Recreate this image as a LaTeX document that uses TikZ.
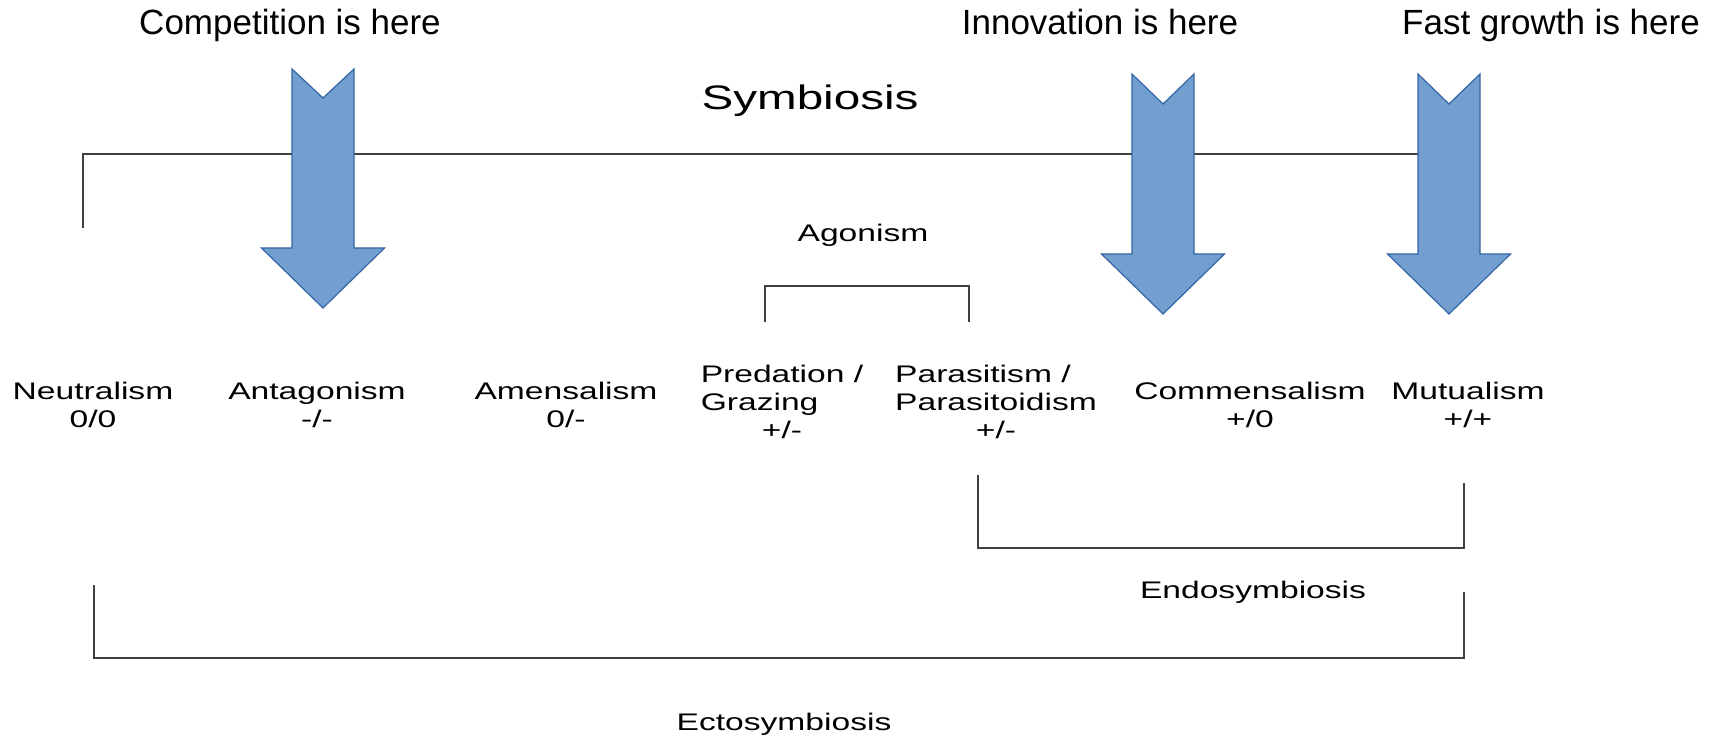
\documentclass[tikz,border=0pt]{standalone}
\usepackage{fontspec}
\setmainfont{Liberation Sans}
\definecolor{arrowfill}{HTML}{729FCF}
\definecolor{arrowline}{HTML}{3465A4}
\tikzset{
  bracket/.style={draw=black!75, line width=0.7pt},
  bigarrow/.style={fill=arrowfill, draw=arrowline, line width=0.6pt, line join=miter},
  toplabel/.style={font=\fontsize{17.5}{21}\selectfont, anchor=base, inner sep=0pt},
  grouplabel/.style={font=\fontsize{12}{14}\selectfont, xscale=1.4, anchor=base, inner sep=0pt},
  relation/.style={font=\fontsize{12}{14}\selectfont, xscale=1.4, align=center, inner sep=0pt},
}
\begin{document}
\begin{tikzpicture}[x=0.5pt,y=-0.5pt]
\useasboundingbox (0,0) rectangle (1723,737);

% Symbiosis bracket (runs under the arrows)
\draw[bracket] (83,228) -- (83,154) -- (1449,154);
\node[grouplabel,font=\fontsize{17}{20}\selectfont] (symbiosis) at (810,110) {Symbiosis};

% Where things happen
\node[toplabel] (competition) at (290,35) {Competition is here};
\node[toplabel] (innovation) at (1100,35) {Innovation is here};
\node[toplabel] (fastgrowth) at (1551,35) {Fast growth is here};

\draw[bigarrow,shift={(323,69)}] (-31,0) -- (0,29) -- (31,0) -- (31,179) -- (61.5,179) -- (0,239) -- (-61.5,179) -- (-31,179) -- cycle;
\draw[bigarrow,shift={(1163,74)}] (-31,0) -- (0,30) -- (31,0) -- (31,180) -- (61.5,180) -- (0,240) -- (-61.5,180) -- (-31,180) -- cycle;
\draw[bigarrow,shift={(1449,74)}] (-31,0) -- (0,30) -- (31,0) -- (31,180) -- (61.5,180) -- (0,240) -- (-61.5,180) -- (-31,180) -- cycle;

% Agonism
\node[grouplabel] (agonism) at (863,242) {Agonism};
\draw[bracket] (765,322) -- (765,286) -- (969,286) -- (969,322);

% Relations
\node[relation] (neutralism) at (93,405) {Neutralism\\0/0};
\node[relation] (antagonism) at (317,405) {Antagonism\\-/-};
\node[relation] (amensalism) at (566,405) {Amensalism\\0/-};
\node[relation] (predation) at (782,405) {\begin{tabular}{@{}l@{}}Predation /\\Grazing\\\multicolumn{1}{@{}c@{}}{+/-}\end{tabular}};
\node[relation] (parasitism) at (996,405) {\begin{tabular}{@{}l@{}}Parasitism /\\Parasitoidism\\\multicolumn{1}{@{}c@{}}{+/-}\end{tabular}};
\node[relation] (commensalism) at (1250,405) {Commensalism\\+/0};
\node[relation] (mutualism) at (1468,405) {Mutualism\\+/+};

% Endosymbiosis
\draw[bracket] (978,475) -- (978,548) -- (1464,548) -- (1464,483);
\node[grouplabel] (endosymbiosis) at (1253,598) {Endosymbiosis};

% Ectosymbiosis
\draw[bracket] (94,585) -- (94,658) -- (1464,658) -- (1464,592);
\node[grouplabel] (ectosymbiosis) at (784,730) {Ectosymbiosis};
\end{tikzpicture}
\end{document}
